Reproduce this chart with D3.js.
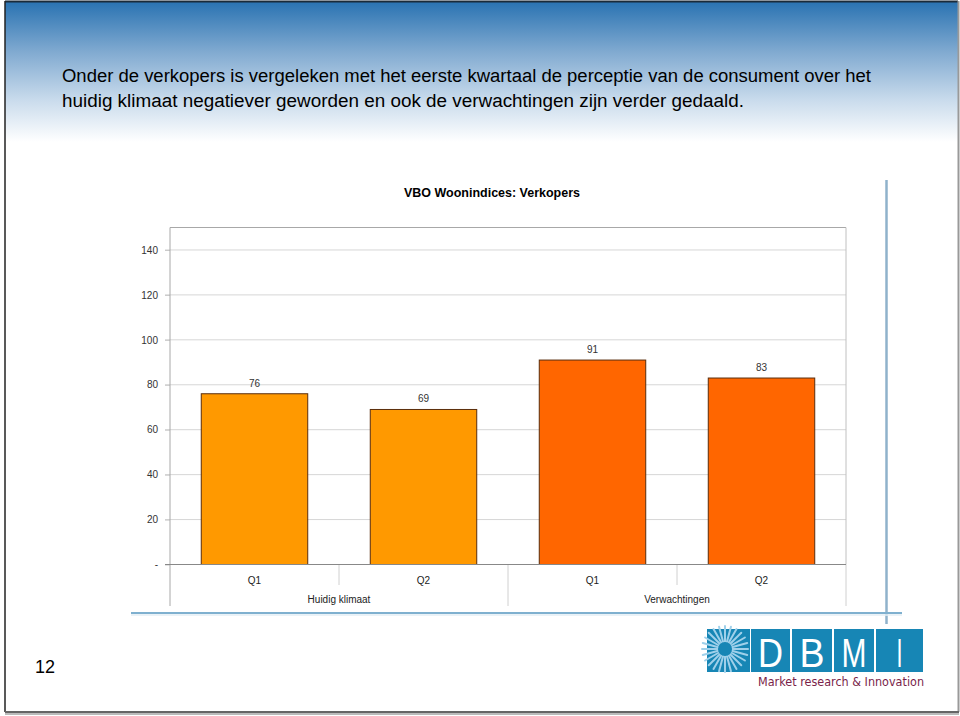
<!DOCTYPE html>
<html><head><meta charset="utf-8">
<script src="https://cdn.jsdelivr.net/npm/d3@7"></script>
<style>html,body{margin:0;padding:0;background:#fff;}svg{display:block;}</style>
</head><body>
<script>
const categories = ["Q1", "Q2", "Q1", "Q2"];
const groups = ["Huidig klimaat", "Verwachtingen"];
const values = [76, 69, 91, 83];
const barColors = ["#FF9900", "#FF9900", "#FF6600", "#FF6600"];
const yTicks = [0, 20, 40, 60, 80, 100, 120, 140];
const yTickLabels = ["-", "20", "40", "60", "80", "100", "120", "140"];
const chartTitle = "VBO Woonindices: Verkopers";
const headerLines = [
  "Onder de verkopers is vergeleken met het eerste kwartaal de perceptie van de consument over het",
  "huidig klimaat negatiever geworden en ook de verwachtingen zijn verder gedaald."
];
const pageNumber = "12";
const logoLetters = ["D", "B", "M", "I"];
const logoTagline = "Market research & Innovation";

(function () {
const W = 960, H = 716;
const svg = d3.select("body").append("svg").attr("width", W).attr("height", H);
const defs = svg.append("defs");
const grad = defs.append("linearGradient").attr("id", "hdr").attr("x1", 0).attr("y1", 0).attr("x2", 0).attr("y2", 1);
grad.append("stop").attr("offset", "0%").attr("stop-color", "#2a73b2");
grad.append("stop").attr("offset", "35%").attr("stop-color", "#7fa9d0");
grad.append("stop").attr("offset", "70%").attr("stop-color", "#c9dbec");
grad.append("stop").attr("offset", "100%").attr("stop-color", "#ffffff");

svg.append("rect").attr("x", 0).attr("y", 0).attr("width", W).attr("height", H).attr("fill", "#fff");
svg.append("rect").attr("x", 5).attr("y", 2).attr("width", 953).attr("height", 140).attr("fill", "url(#hdr)");
svg.append("line").attr("x1", 5).attr("x2", 958).attr("y1", 1.5).attr("y2", 1.5).attr("stroke", "#1a2b3a").attr("stroke-width", 2);
svg.append("line").attr("x1", 5).attr("x2", 5).attr("y1", 1).attr("y2", 712).attr("stroke", "#222").attr("stroke-width", 1.5);
svg.append("line").attr("x1", 958.5).attr("x2", 958.5).attr("y1", 1).attr("y2", 712).attr("stroke", "#999").attr("stroke-width", 2);
svg.append("line").attr("x1", 5).attr("x2", 959).attr("y1", 712).attr("y2", 712).attr("stroke", "#666").attr("stroke-width", 2);
svg.append("line").attr("x1", 5).attr("x2", 959).attr("y1", 714).attr("y2", 714).attr("stroke", "#bbb").attr("stroke-width", 2);

const hdrW = [809, 682];
headerLines.forEach((t, i) => {
  svg.append("text").attr("x", 62).attr("y", 82 + i * 25)
    .attr("font-family", "Liberation Sans, Arial, sans-serif").attr("font-size", 18)
    .attr("fill", "#000").attr("textLength", hdrW[i]).attr("lengthAdjust", "spacingAndGlyphs").text(t);
});

svg.append("line").attr("x1", 886.5).attr("x2", 886.5).attr("y1", 180).attr("y2", 624).attr("stroke", "#8fb2cb").attr("stroke-width", 2.5);
svg.append("line").attr("x1", 131).attr("x2", 902).attr("y1", 613).attr("y2", 613).attr("stroke", "#7fb0cf").attr("stroke-width", 2);
svg.append("line").attr("x1", 131).attr("x2", 902).attr("y1", 615).attr("y2", 615).attr("stroke", "#e3eef5").attr("stroke-width", 1.5);

const pL = 170, pR = 846, pT = 227.5, pB = 564.5;
const y = d3.scaleLinear().domain([0, 150]).range([pB, pT]);
const x = d3.scaleBand().domain(d3.range(categories.length)).range([pL, pR]).paddingInner(0.37).paddingOuter(0.185);
const xb = d3.scaleBand().domain(d3.range(categories.length)).range([pL, pR]);
const xg = d3.scaleBand().domain(d3.range(groups.length)).range([pL, pR]);

const g = svg.append("g");
g.append("text").attr("x", 492).attr("y", 197).attr("text-anchor", "middle")
  .attr("font-family", "Liberation Sans, Arial, sans-serif").attr("font-size", 12).attr("font-weight", "bold").attr("fill", "#000")
  .attr("textLength", 176).attr("lengthAdjust", "spacingAndGlyphs").text(chartTitle);

g.selectAll(".grid").data(yTicks.filter(d => d > 0)).enter().append("line")
  .attr("x1", pL - 5).attr("x2", pR).attr("y1", d => y(d)).attr("y2", d => y(d))
  .attr("stroke", "#d6d6d6").attr("stroke-width", 1);
const yAxis = d3.axisLeft(y).tickValues(yTicks).tickSize(5).tickPadding(7).tickFormat((d, i) => yTickLabels[i]);
const ya = g.append("g").attr("transform", `translate(${pL},0)`).call(yAxis);
ya.select(".domain").remove();
ya.selectAll(".tick line").attr("stroke", "#c8c8c8");
ya.selectAll(".tick text").attr("font-family", "Liberation Sans, Arial, sans-serif").attr("font-size", 10).attr("fill", "#333");

g.append("line").attr("x1", pL).attr("x2", pR).attr("y1", pT).attr("y2", pT).attr("stroke", "#a8a8a8");
g.append("line").attr("x1", pR).attr("x2", pR).attr("y1", pT).attr("y2", pB).attr("stroke", "#c0c0c0");
g.append("line").attr("x1", pL).attr("x2", pL).attr("y1", pT).attr("y2", 606).attr("stroke", "#a8a8a8");

g.selectAll(".sep").data(d3.range(1, categories.length + 1)).enter().append("line")
  .attr("x1", d => pL + d * xb.bandwidth()).attr("x2", d => pL + d * xb.bandwidth())
  .attr("y1", pB).attr("y2", d => (d % 2 === 0) ? 606 : 585)
  .attr("stroke", "#d0d0d0");

g.selectAll(".bar").data(values).enter().append("rect")
  .attr("x", (d, i) => x(i)).attr("width", x.bandwidth())
  .attr("y", d => y(d)).attr("height", d => pB - y(d))
  .attr("fill", (d, i) => barColors[i]).attr("stroke", "#5a2d0c").attr("stroke-width", 1);

g.append("line").attr("x1", pL - 5).attr("x2", pR).attr("y1", pB).attr("y2", pB).attr("stroke", "#888");

g.selectAll(".val").data(values).enter().append("text")
  .attr("x", (d, i) => x(i) + x.bandwidth() / 2).attr("y", d => y(d) - 7)
  .attr("text-anchor", "middle").attr("font-family", "Liberation Sans, Arial, sans-serif").attr("font-size", 10).attr("fill", "#333").text(d => d);

g.selectAll(".cat").data(categories).enter().append("text")
  .attr("x", (d, i) => xb(i) + xb.bandwidth() / 2).attr("y", 584)
  .attr("text-anchor", "middle").attr("font-family", "Liberation Sans, Arial, sans-serif").attr("font-size", 10).attr("fill", "#222").text(d => d);
g.selectAll(".grp").data(groups).enter().append("text")
  .attr("x", (d, i) => xg(i) + xg.bandwidth() / 2).attr("y", 603)
  .attr("text-anchor", "middle").attr("font-family", "Liberation Sans, Arial, sans-serif").attr("font-size", 10).attr("fill", "#222").text(d => d);

svg.append("text").attr("x", 35).attr("y", 673).attr("font-family", "Liberation Sans, Arial, sans-serif").attr("font-size", 18).attr("fill", "#000").text(pageNumber);

const lg = svg.append("g");
const blue = "#1786b5";
lg.append("rect").attr("x", 707).attr("y", 629).attr("width", 43).attr("height", 43).attr("fill", blue);
const cx = 725, cy = 649;
for (let k = 0; k < 24; k++) {
  const a = k * Math.PI * 2 / 24;
  lg.append("line").attr("x1", cx + Math.cos(a) * 7).attr("y1", cy + Math.sin(a) * 7)
    .attr("x2", cx + Math.cos(a) * 23).attr("y2", cy + Math.sin(a) * 23)
    .attr("stroke", "#9fd0ea").attr("stroke-width", 2).attr("stroke-linecap", "round");
}
lg.append("circle").attr("cx", cx).attr("cy", cy).attr("r", 7).attr("fill", blue);
const bx = [751, 792, 834, 876], bw = [39, 40, 40, 47];
logoLetters.forEach((L, i) => {
  lg.append("rect").attr("x", bx[i]).attr("y", 629).attr("width", bw[i]).attr("height", 43).attr("fill", blue);
  lg.append("text").attr("x", bx[i] + bw[i] / 2).attr("y", 667).attr("text-anchor", "middle")
    .attr("font-family", "Liberation Sans, sans-serif").attr("font-size", 41)
    .attr("fill", "#fff").attr("textLength", L === "I" ? 6 : 25).attr("lengthAdjust", "spacingAndGlyphs").text(L);
});
lg.append("text").attr("x", 758).attr("y", 686).attr("font-family", "DejaVu Sans, Verdana, sans-serif").attr("font-size", 12)
  .attr("fill", "#7a1f4a").attr("textLength", 166).attr("lengthAdjust", "spacingAndGlyphs").text(logoTagline);
})();
</script>
</body></html>
